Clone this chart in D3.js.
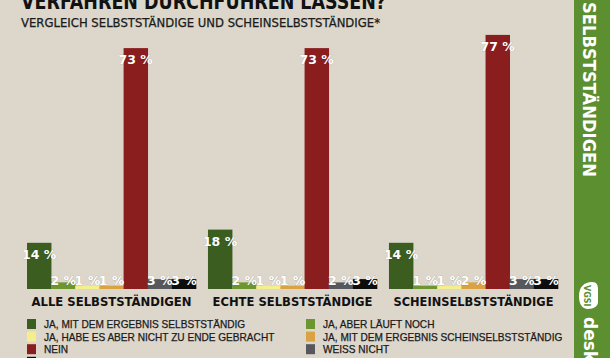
<!DOCTYPE html>
<html><head><meta charset="utf-8">
<script src="https://cdn.jsdelivr.net/npm/d3@7"></script>
<style>body{margin:0;background:#dcd6cb;overflow:hidden}svg{display:block}</style>
</head><body>
<svg id="chart" width="610" height="358"></svg>
<script>
const categories = ["ALLE SELBSTSTÄNDIGEN", "ECHTE SELBSTSTÄNDIGE", "SCHEINSELBSTSTÄNDIGE"];
const seriesNames = [
  "JA, MIT DEM ERGEBNIS SELBSTSTÄNDIG",
  "JA, ABER LÄUFT NOCH",
  "JA, HABE ES ABER NICHT ZU ENDE GEBRACHT",
  "JA, MIT DEM ERGEBNIS SCHEINSELBSTSTÄNDIG",
  "NEIN",
  "WEISS NICHT",
  "K.A."
];
const alleValues   = [14, 2, 1, 1, 73, 3, 3];
const echteValues  = [18, 2, 1, 1, 73, 2, 3];
const scheinValues = [14, 1, 1, 2, 77, 3, 3];
const seriesColors = ["#3b5e20", "#6e9630", "#f4ee8c", "#d9a243", "#8a1e1e", "#56585e", "#0d0d0d"];
const title = "VERFAHREN DURCHFÜHREN LASSEN?";
const subtitle = "VERGLEICH SELBSTSTÄNDIGE UND SCHEINSELBSTSTÄNDIGE*";
const sideTitle = "SELBSTSTÄNDIGEN";

const valuesByCat = [alleValues, echteValues, scheinValues];
const svg = d3.select("#chart");
const W = 610, H = 358;
svg.append("rect").attr("width", W).attr("height", H).attr("fill", "#dcd6cb");

const x0 = d3.scaleBand().domain(categories).range([27, 558]).paddingInner(0.066).paddingOuter(0);
const x1 = d3.scaleBand().domain(d3.range(seriesNames.length)).range([0, x0.bandwidth()]).padding(0);
const y = d3.scaleLinear().domain([0, 80]).range([289, 289 - 264]);

// title
svg.append("text").attr("x", 21).attr("y", 8.5).text(title)
  .attr("font-family", "DejaVu Sans").attr("font-weight", "bold").attr("font-size", 22)
  .attr("textLength", 365).attr("lengthAdjust", "spacingAndGlyphs").attr("fill", "#111");
svg.append("text").attr("x", 21).attr("y", 27).text(subtitle)
  .attr("font-family", "DejaVu Sans").attr("font-size", 11.5)
  .attr("stroke", "#1a1a1a").attr("stroke-width", 0.25)
  .attr("textLength", 359).attr("lengthAdjust", "spacingAndGlyphs").attr("fill", "#1a1a1a");

const groups = svg.selectAll("g.grp").data(categories).join("g")
  .attr("class", "grp").attr("transform", d => `translate(${x0(d)},0)`);

groups.each(function(cat, ci) {
  const g = d3.select(this);
  const vals = valuesByCat[ci].map((v, i) => ({v, i}));
  g.selectAll("rect").data(vals).join("rect")
    .attr("x", d => x1(d.i)).attr("width", x1.bandwidth() + 0.3)
    .attr("y", d => y(d.v)).attr("height", d => y(0) - y(d.v))
    .attr("fill", d => seriesColors[d.i]);
  g.selectAll("text.val").data(vals).join("text").attr("class", "val")
    .attr("x", d => x1(d.i) + x1.bandwidth() / 2)
    .attr("y", d => Math.min(y(d.v) + 16, y(0) - 4.5))
    .attr("text-anchor", "middle")
    .attr("font-family", "DejaVu Sans").attr("font-weight", "bold").attr("font-size", 12.5)
    .attr("fill", "#fff")
    .attr("stroke", "rgba(0,0,0,0.25)").attr("stroke-width", 0.6).attr("paint-order", "stroke")
    .text(d => d.v + " %");
  g.append("text").attr("x", x0.bandwidth() / 2).attr("y", 306)
    .attr("text-anchor", "middle")
    .attr("font-family", "DejaVu Sans").attr("font-weight", "bold").attr("font-size", 13)
    .attr("textLength", 160).attr("lengthAdjust", "spacingAndGlyphs")
    .attr("fill", "#111").text(cat);
});

// legend
const legendCols = [27, 306];
const legendRowY = d3.scaleLinear().domain([0, 1]).range([324, 336.6]);
const legend = svg.selectAll("g.leg").data(seriesNames).join("g").attr("class", "leg")
  .attr("transform", (d, i) => `translate(${legendCols[i % 2]},${legendRowY(Math.floor(i / 2))})`);
legend.append("rect").attr("x", 0).attr("y", -5).attr("width", 9).attr("height", 10)
  .attr("fill", (d, i) => seriesColors[i]);
legend.append("text").attr("x", 17).attr("y", 4)
  .attr("font-family", "Liberation Sans").attr("font-size", 10.1)
  .attr("stroke", "#1a1a1a").attr("stroke-width", 0.25)
  .attr("fill", "#1a1a1a").text(d => d);

// sidebar
svg.append("rect").attr("x", 574).attr("y", 0).attr("width", 36).attr("height", H).attr("fill", "#5b8f2f");
svg.append("text").attr("transform", "translate(583,2) rotate(90)")
  .attr("font-family", "DejaVu Sans").attr("font-weight", "bold").attr("font-size", 17)
  .attr("textLength", 175).attr("lengthAdjust", "spacingAndGlyphs")
  .attr("fill", "#fff").text(sideTitle);
// logo
svg.append("path").attr("d", "M579,296 C579,287 584,282 592,282 C597,282 598,285 598,290 L598,302 C598,306 594,309 588,309 C582,309 579,304 579,296 Z")
  .attr("fill", "#fff");
svg.append("text").attr("transform", "translate(584,285) rotate(90)")
  .attr("font-family", "DejaVu Sans").attr("font-weight", "bold").attr("font-size", 8)
  .attr("fill", "#5b8f2f").text("VGSI");
svg.append("text").attr("transform", "translate(584,317) rotate(90)")
  .attr("font-family", "DejaVu Sans").attr("font-weight", "bold").attr("font-size", 17)
  .attr("fill", "#fff").text("desktop");
</script>
</body></html>
